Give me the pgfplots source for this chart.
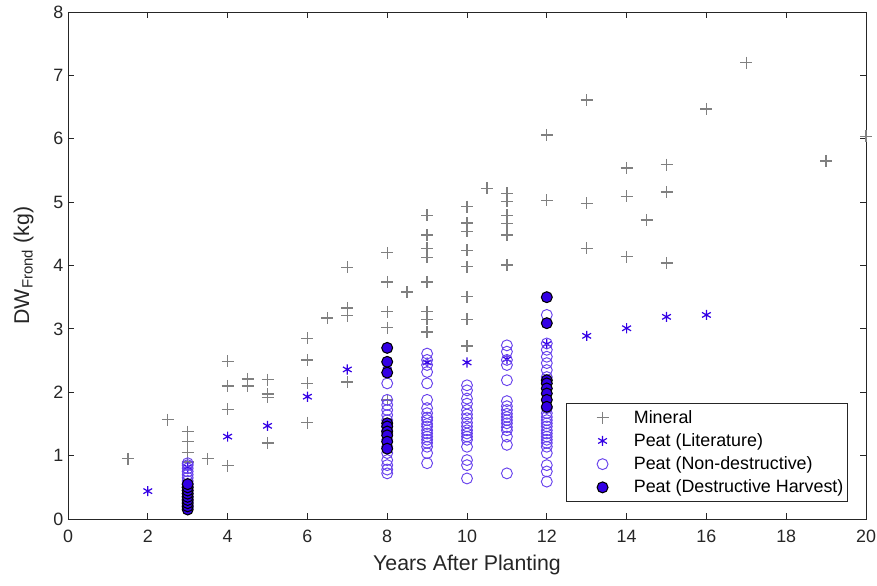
\documentclass[border=0pt]{standalone}
\usepackage{fontspec}
\setmainfont{Liberation Sans}
\usepackage{pgfplots}
\pgfplotsset{compat=1.18}

\definecolor{axgray}{rgb}{0.15,0.15,0.15}
\definecolor{mingray}{rgb}{0.5,0.5,0.5}
\definecolor{peatblue}{rgb}{0.2,0,0.9}

\begin{document}
\begin{tikzpicture}
\useasboundingbox (-51pt,-49.5pt) rectangle (606.75pt,389.25pt);
\begin{axis}[
  scale only axis,
  width=598.5pt, height=380.25pt,
  xmin=0, xmax=20, ymin=0, ymax=8,
  xtick={0,2,...,20}, ytick={0,1,...,8},
  tick align=inside,
  major tick length=4.5pt,
  axis line style={axgray, line width=0.6pt},
  every tick/.style={axgray, line width=0.6pt},
  tick label style={font=\fontsize{13.4}{15}\selectfont, text=axgray},
  xticklabel style={yshift=-4.5pt},
  /pgf/number format/assume math mode=true,
  xlabel={Years After Planting},
  ylabel={DW$_{\mathrm{Frond}}$ (kg)},
  label style={font=\fontsize{16}{18}\selectfont, text=axgray},
  xlabel style={yshift=-3pt},
  ylabel style={yshift=8pt},
  legend cell align=left,
  legend image code/.code={\path[draw=none] (0pt,0pt) (40pt,0pt);
    \draw[#1] plot[only marks] coordinates {(26.5pt,0pt)};},
  legend style={at={(0.977,0.034)}, anchor=south east, draw=axgray,
    font=\fontsize{13.4}{15}\selectfont, text=black,
    row sep=2.2pt, column sep=8pt, inner xsep=1pt, inner ysep=3pt},
]
% Mineral
\addplot[only marks, mark=+, mark size=4.5pt, mingray, line width=1pt] coordinates {
 (1.5,0.95) (2.5,1.57) (3,1.38) (3,1.22) (3,1.05) (3,0.9) (3.5,0.95)
 (4,2.49) (4,2.10) (4,1.73) (4,0.84) (4.5,2.21) (4.5,2.10)
 (5,2.20) (5,1.97) (5,1.92) (5,1.20)
 (6,2.85) (6,2.51) (6,2.14) (6,1.52) (6.5,3.17)
 (7,3.97) (7,3.33) (7,3.21) (7,2.16)
 (8,4.20) (8,3.74) (8,3.27) (8,3.02) (8,1.88) (8.5,3.58)
 (9,4.79) (9,4.48) (9,4.27) (9,4.13) (9,3.74) (9,3.27) (9,3.15) (9,2.95)
 (10,4.93) (10,4.67) (10,4.54) (10,4.24) (10,3.98) (10,3.51) (10,3.15) (10,2.73)
 (10.5,5.22)
 (11,5.14) (11,5.01) (11,4.79) (11,4.66) (11,4.48) (11,4.01)
 (12,6.06) (12,5.03)
 (13,6.61) (13,4.98) (13,4.27)
 (14,5.54) (14,5.09) (14,4.14) (14.5,4.72)
 (15,5.59) (15,5.16) (15,4.04)
 (16,6.47) (17,7.20) (19,5.65) (20,6.04)
};
\addlegendentry{Mineral}
% Peat (Literature)
\addplot[only marks, mark=asterisk, mark size=3.8pt, peatblue, line width=0.9pt] coordinates {
 (2,0.44) (3,0.82) (4,1.30) (5,1.47) (6,1.93) (7,2.36) (8,2.42) (9,2.47)
 (10,2.47) (11,2.52) (12,2.76) (13,2.89) (14,3.01) (15,3.19) (16,3.22)
};
\addlegendentry{Peat (Literature)}
% Peat (Non-destructive)
\addplot[only marks, mark=o, mark size=4.1pt, peatblue!75!white, line width=0.7pt] coordinates {
 (3,0.18) (3,0.22) (3,0.27) (3,0.31) (3,0.35) (3,0.40) (3,0.45) (3,0.50)
 (3,0.55) (3,0.60) (3,0.65) (3,0.70) (3,0.75) (3,0.80) (3,0.85) (3,0.88)
 (8,2.14) (8,1.88) (8,1.80) (8,1.72) (8,1.64) (8,1.56) (8,1.46) (8,1.40)
 (8,1.35) (8,1.25) (8,1.14) (8,1.04) (8,0.93) (8,0.85) (8,0.78) (8,0.72)
 (9,2.61) (9,2.51) (9,2.43) (9,2.32) (9,2.14) (9,1.88) (9,1.75) (9,1.67)
 (9,1.60) (9,1.56) (9,1.50) (9,1.46) (9,1.40) (9,1.35) (9,1.30) (9,1.25)
 (9,1.20) (9,1.14) (9,1.04) (9,0.88)
 (10,2.11) (10,2.03) (10,1.90) (10,1.82) (10,1.72) (10,1.65) (10,1.59) (10,1.52)
 (10,1.46) (10,1.40) (10,1.35) (10,1.30) (10,1.25) (10,1.14) (10,0.93) (10,0.85)
 (10,0.64)
 (11,2.74) (11,2.64) (11,2.51) (11,2.43) (11,2.19) (11,1.86) (11,1.78) (11,1.72)
 (11,1.66) (11,1.61) (11,1.56) (11,1.51) (11,1.45) (11,1.40) (11,1.30) (11,1.17)
 (11,0.72)
 (12,3.22) (12,2.77) (12,2.67) (12,2.56) (12,2.46) (12,2.35) (12,2.24) (12,1.75)
 (12,1.67) (12,1.61) (12,1.56) (12,1.51) (12,1.46) (12,1.40) (12,1.35) (12,1.30)
 (12,1.25) (12,1.20) (12,1.14) (12,1.04) (12,0.85) (12,0.75) (12,0.59)
};
\addlegendentry{Peat (Non-destructive)}
% Peat (Destructive Harvest)
\addplot[only marks, mark=*, mark size=4.1pt, draw=black, fill=peatblue, line width=0.8pt] coordinates {
 (3,0.15) (3,0.20) (3,0.25) (3,0.30) (3,0.35) (3,0.40) (3,0.45) (3,0.50) (3,0.55)
 (8,2.70) (8,2.48) (8,2.31) (8,1.51) (8,1.46) (8,1.38) (8,1.32) (8,1.22) (8,1.11)
 (12,3.50) (12,3.09) (12,2.19) (12,2.14) (12,2.06) (12,1.98) (12,1.88) (12,1.77)
};
\addlegendentry{Peat (Destructive Harvest)}
\end{axis}
\end{tikzpicture}
\end{document}
